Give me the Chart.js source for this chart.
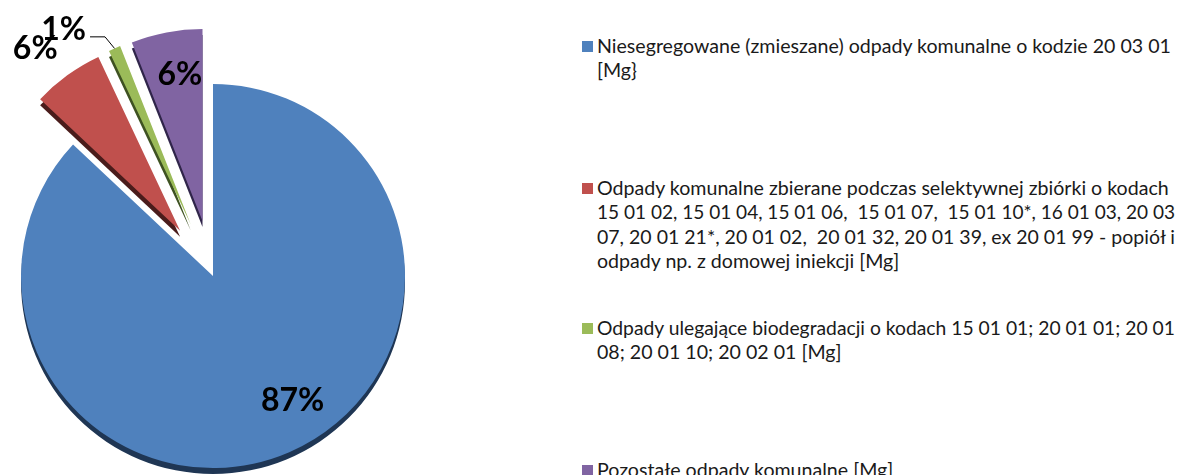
<!DOCTYPE html>
<html>
<head>
<meta charset="utf-8">
<script src="https://cdn.jsdelivr.net/npm/chart.js@4"></script>
<style>
  html, body { margin: 0; padding: 0; background: #fff; }
  body { width: 1182px; height: 475px; position: relative; overflow: hidden; }
  #pieBox { position: absolute; left: 0; top: 0; width: 426px; height: 475px; }
  .leg { position: absolute; left: 582px; font-family: Lato, sans-serif; font-size: 19.6px;
         line-height: 24.4px; color: #1a1a1a; white-space: nowrap; }
  .leg .sq { position: absolute; left: 0; top: 7px; width: 11px; height: 11px; }
  .leg .txt { position: absolute; left: 15px; top: 0; }
  .leg .ln { display: block; width: max-content; transform-origin: 0 50%; }
</style>
</head>
<body>
<div id="pieBox"><canvas id="myChart"></canvas></div>
<div id="legend"></div>
<script>
// categories (legend lines as they wrap in the original)
const categories = [
    ['Niesegregowane (zmieszane) odpady komunalne o kodzie 20 03 01', '[Mg}'],
    ['Odpady komunalne zbierane podczas selektywnej zbiórki o kodach',
     '15 01 02, 15 01 04, 15 01 06,  15 01 07,  15 01 10*, 16 01 03, 20 03',
     '07, 20 01 21*, 20 01 02,  20 01 32, 20 01 39, ex 20 01 99 - popiół i',
     'odpady np. z domowej iniekcji [Mg]'],
    ['Odpady ulegające biodegradacji o kodach 15 01 01; 20 01 01; 20 01', '08; 20 01 10; 20 02 01 [Mg]'],
    ['Pozostałe odpady komunalne [Mg]']
];
// share in percent
const shares = [87, 6, 1, 6];
const percentLabels = ['87%', '6%', '1%', '6%'];

const colors = ['#4f81bd', '#c0504d', '#9bbb59', '#8064a2'];
const darkColors = ['#1f3654', '#4a1c1b', '#3e5222', '#30254a'];
const explode = [0, 56, 56, 56];
const depth = 6;
const legendTops = [34, 176, 316, 458];
const legendMaxWidth = 578;

// html legend
const legendEl = document.getElementById('legend');
categories.forEach((lines, i) => {
    const item = document.createElement('div');
    item.className = 'leg';
    item.style.top = legendTops[i] + 'px';
    const sq = document.createElement('div');
    sq.className = 'sq';
    sq.style.background = colors[i];
    const txt = document.createElement('div');
    txt.className = 'txt';
    lines.forEach(l => {
        const ln = document.createElement('span');
        ln.className = 'ln';
        ln.innerHTML = l.replace(/  /g, ' &nbsp;');
        txt.appendChild(ln);
    });
    item.appendChild(sq);
    item.appendChild(txt);
    legendEl.appendChild(item);
});
// squeeze the number-heavy lines so they wrap like the original
document.querySelectorAll('.leg .ln').forEach(ln => {
    const w = ln.getBoundingClientRect().width;
    if (w > legendMaxWidth) ln.style.transform = 'scaleX(' + (legendMaxWidth / w) + ')';
});

//3d-ish exploded pie drawing
const explodedPie = {
    id: 'explodedPie',
    beforeDatasetDraw(chart, args) {
        const ctx = chart.ctx;
        const arcs = args.meta.data;
        // depth (side) first
        arcs.forEach((arc, i) => {
            const mid = (arc.startAngle + arc.endAngle) / 2;
            ctx.save();
            ctx.translate(Math.cos(mid) * explode[i], Math.sin(mid) * explode[i] + depth);
            ctx.beginPath();
            ctx.moveTo(arc.x, arc.y);
            ctx.arc(arc.x, arc.y, arc.outerRadius, arc.startAngle, arc.endAngle);
            ctx.closePath();
            ctx.fillStyle = darkColors[i];
            ctx.fill();
            ctx.restore();
        });
        // top faces
        arcs.forEach((arc, i) => {
            const mid = (arc.startAngle + arc.endAngle) / 2;
            ctx.save();
            ctx.translate(Math.cos(mid) * explode[i], Math.sin(mid) * explode[i]);
            arc.draw(ctx);
            ctx.restore();
        });
        return false;
    },
    afterDatasetsDraw(chart) {
        const ctx = chart.ctx;
        const arcs = chart.getDatasetMeta(0).data;
        ctx.save();
        ctx.font = 'bold 32px Lato, sans-serif';
        ctx.fillStyle = '#000';
        ctx.textBaseline = 'middle';
        arcs.forEach((arc, i) => {
            const mid = (arc.startAngle + arc.endAngle) / 2;
            const r = arc.outerRadius;
            const cx = arc.x + Math.cos(mid) * explode[i];
            const cy = arc.y + Math.sin(mid) * explode[i];
            if (i === 2) {
                // small slice: label outside with a leader line
                const x0 = cx + Math.cos(mid) * r * 1.0, y0 = cy + Math.sin(mid) * r * 1.0;
                const x1 = cx + Math.cos(mid - 0.02) * r * 1.075, y1 = cy + Math.sin(mid - 0.02) * r * 1.075;
                ctx.beginPath();
                ctx.moveTo(x0, y0);
                ctx.lineTo(x1, y1);
                ctx.lineTo(x1 - 15, y1);
                ctx.strokeStyle = '#000';
                ctx.lineWidth = 1;
                ctx.stroke();
                ctx.textAlign = 'right';
                ctx.fillText(percentLabels[i], x1 - 19, y1 - 7);
                return;
            }
            let a = mid, k = 0.77;
            if (i === 0) a = mid - 0.16;
            if (i === 1) { a = mid - 0.045; k = 1.21; }
            if (i === 3) a = mid + 0.035;
            ctx.textAlign = 'center';
            ctx.fillText(percentLabels[i], cx + Math.cos(a) * r * k, cy + Math.sin(a) * r * k);
        });
        ctx.restore();
    }
};

const ctx = document.getElementById('myChart').getContext('2d');
const myChart = new Chart(ctx, {
    type: 'pie',
    data: {
        labels: categories.map(l => l.join(' ')),
        datasets: [{
            data: shares,
            backgroundColor: colors,
            borderWidth: 0
        }]
    },
    options: {
        responsive: true,
        maintainAspectRatio: false,
        animation: false,
        radius: 192,
        layout: { padding: { top: 77 } },
        plugins: {
            legend: { display: false },
            tooltip: { enabled: false }
        }
    },
    plugins: [explodedPie]
});
</script>
</body>
</html>
